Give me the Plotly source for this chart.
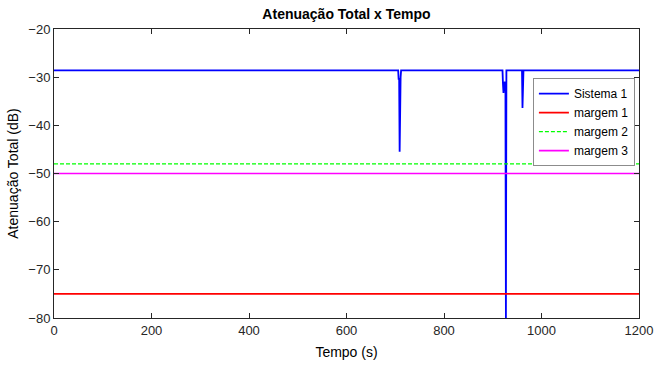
import plotly.graph_objects as go

# Sistema 1 samples (time in s, attenuation in dB)
tempo = [0, 706, 707, 708, 709, 710, 711, 712, 713, 714,
         920, 921, 922, 923, 924, 925, 926, 927, 928, 929,
         960, 961, 962, 963, 1200]
sistema1 = [-28.6, -28.6, -30.5, -30.2, -45.5, -30.4, -30.0, -28.6, -28.6, -28.6,
            -28.6, -31.5, -33.3, -31.6, -31.0, -31.2, -31.0, -80.0, -28.6, -28.6,
            -28.6, -36.4, -28.6, -28.6, -28.6]

margem_t = [0, 1200]
margem1 = [-75, -75]
margem2 = [-48, -48]
margem3 = [-50, -50]

x_ticks = [0, 200, 400, 600, 800, 1000, 1200]
y_ticks = [-80, -70, -60, -50, -40, -30, -20]

font = "Liberation Sans, Arial, sans-serif"

fig = go.Figure()
fig.add_trace(go.Scatter(x=tempo, y=sistema1, mode="lines", name="Sistema 1",
                         line=dict(color="#0000ff", width=1.8)))
fig.add_trace(go.Scatter(x=margem_t, y=margem1, mode="lines", name="margem 1",
                         line=dict(color="#ff0000", width=1.6)))
fig.add_trace(go.Scatter(x=margem_t, y=margem2, mode="lines", name="margem 2",
                         line=dict(color="#00ff00", width=1.2, dash="4px,2px")))
fig.add_trace(go.Scatter(x=margem_t, y=margem3, mode="lines", name="margem 3",
                         line=dict(color="#ff00ff", width=1.6)))

axis_common = dict(showgrid=False, zeroline=False, showline=True, mirror="ticks",
                   linecolor="#262626", linewidth=1, ticks="inside", ticklen=5,
                   automargin=False,
                   tickcolor="#262626", tickfont=dict(family=font, size=13, color="#262626"))

fig.update_layout(
    width=656, height=367,
    margin=dict(l=54, r=17, t=29, b=49),
    paper_bgcolor="white", plot_bgcolor="white",
    title=dict(text="<b>Atenuação Total x Tempo</b>", x=0.5, xref="paper",
               y=0.962, yanchor="middle", yref="container",
               font=dict(family=font, size=14, color="#000000")),
    xaxis=dict(range=[0, 1200], tickvals=x_ticks,
               title=dict(text="Tempo (s)", font=dict(family=font, size=14, color="#000"), standoff=10),
               **axis_common),
    yaxis=dict(range=[-80, -20], tickvals=y_ticks,
               title=dict(text="Atenuação Total (dB)", font=dict(family=font, size=14, color="#000"), standoff=6),
               **axis_common),
    legend=dict(x=0.993, y=0.83, xanchor="right", yanchor="top",
                bgcolor="white", bordercolor="#8c8c8c", borderwidth=1,
                font=dict(family=font, size=12, color="#000"),
                tracegroupgap=0, itemwidth=30),
    showlegend=True,
)

fig.write_html("out.html", config={"displayModeBar": False},
               post_script="document.body.style.margin='0';document.body.style.overflow='hidden';")
